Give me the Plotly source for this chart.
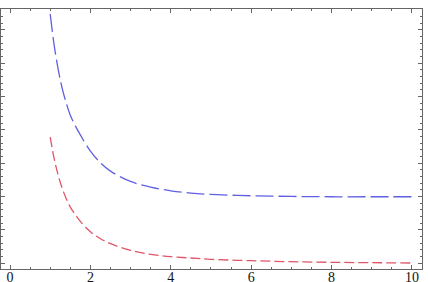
import plotly.graph_objects as go

x_vals = [1, 1.1, 1.2, 1.3, 1.4, 1.5, 1.625, 1.75, 2, 2.25, 2.5, 3, 3.5, 4, 4.5, 5, 6, 7, 8, 9, 10]
blue_vals = [7.48, 6.53, 5.81, 5.24, 4.80, 4.44, 4.12, 3.85, 3.36, 3.01, 2.76, 2.45, 2.28, 2.17, 2.10, 2.06, 2.02, 2.0, 1.99, 1.99, 1.99]
red_vals = [3.78, 3.13, 2.63, 2.24, 1.93, 1.68, 1.45, 1.25, 0.94, 0.73, 0.58, 0.38, 0.26, 0.19, 0.15, 0.11, 0.07, 0.04, 0.02, 0.01, 0.0]
x_ticks = [0, 2, 4, 6, 8, 10]

fig = go.Figure()
fig.add_trace(go.Scatter(x=x_vals, y=blue_vals, mode="lines", line_shape="spline",
                         line=dict(color="rgb(95,95,225)", width=1.3, dash="18px,5px")))
fig.add_trace(go.Scatter(x=x_vals, y=red_vals, mode="lines", line_shape="spline",
                         line=dict(color="rgb(225,85,105)", width=1.3, dash="10px,4px")))

axis_common = dict(showgrid=False, zeroline=False, showline=True, linecolor="#666",
                   linewidth=1, mirror="allticks", ticks="inside", tickcolor="#666",
                   ticklen=4, tickwidth=1, automargin=False)
fig.update_xaxes(range=[-0.224, 10.25], tickvals=x_ticks, ticktext=[str(t) for t in x_ticks],
                 tickfont=dict(family="Liberation Serif", size=14, color="#111"),
                 ticklabelstandoff=-5,
                 minor=dict(dtick=0.5, tick0=0, ticklen=2, tickcolor="#666", ticks="inside"),
                 **axis_common)
fig.update_yaxes(range=[-0.18, 7.63], dtick=1, tick0=0, showticklabels=False,
                 minor=dict(dtick=0.2, tick0=0, ticklen=2, tickcolor="#666", ticks="inside"),
                 **axis_common)
fig.update_layout(width=428, height=282, margin=dict(l=1, r=6, t=9, b=13),
                  paper_bgcolor="white", plot_bgcolor="white", showlegend=False)
fig.write_html("out.html")
